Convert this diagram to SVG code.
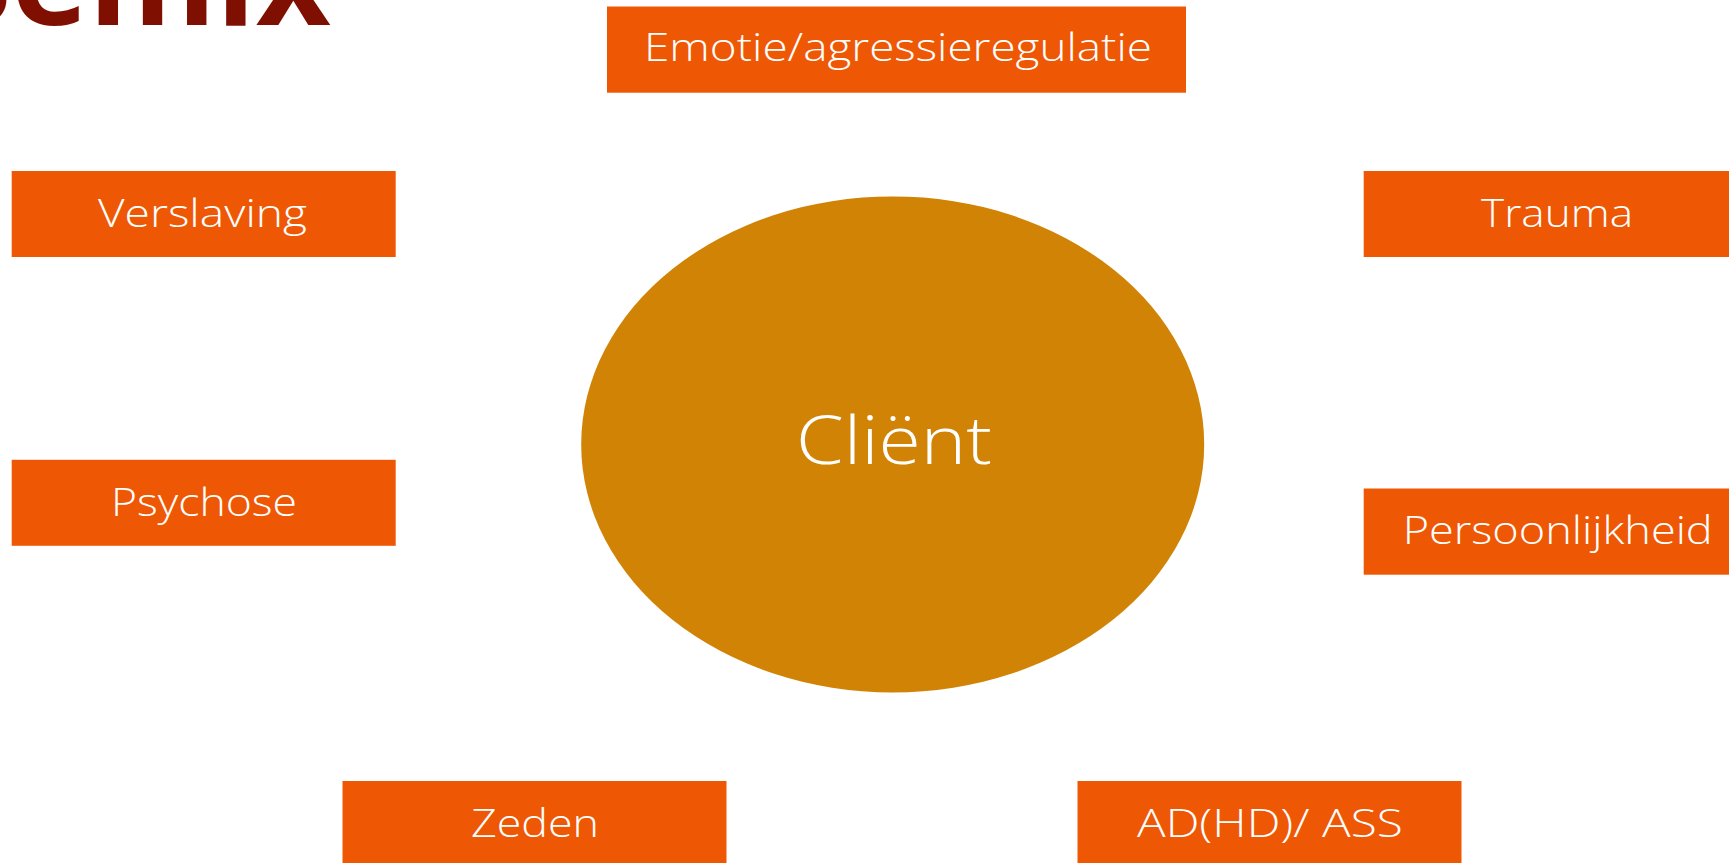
<svg xmlns="http://www.w3.org/2000/svg" width="1729" height="863" viewBox="0 0 1729 863">
<style>
.b{fill:#EE5805}
.t{fill:#fff;font-family:"Open Sans","Noto Sans","Liberation Sans",sans-serif;font-size:38px;font-weight:350}
</style>
<rect width="1729" height="863" fill="#fff"/>
<text id="title" x="-60" y="25" font-family="'Open Sans','Noto Sans',sans-serif" font-weight="700" font-size="130" fill="#7F0F00">Semix</text>
<g id="connectors"></g>
<g id="client"><ellipse cx="892.7" cy="444.4" rx="311.5" ry="248" fill="#D18306"/><text class="t" x="796" y="464" style="font-size:66px" textLength="196" lengthAdjust="spacingAndGlyphs">Cliënt</text></g>
<g id="emotie"><rect class="b" x="607" y="6.5" width="579" height="86.2"/><text class="t" x="644" y="61" textLength="508" lengthAdjust="spacingAndGlyphs">Emotie/agressieregulatie</text></g>
<g id="verslaving"><rect class="b" x="11.7" y="171" width="384" height="86"/><text class="t" x="98" y="226.7" textLength="209" lengthAdjust="spacingAndGlyphs">Verslaving</text></g>
<g id="trauma"><rect class="b" x="1363.7" y="171" width="365.3" height="86"/><text class="t" x="1481" y="226.7" textLength="152" lengthAdjust="spacingAndGlyphs">Trauma</text></g>
<g id="psychose"><rect class="b" x="11.7" y="459.8" width="384" height="86"/><text class="t" x="111" y="516" textLength="186" lengthAdjust="spacingAndGlyphs">Psychose</text></g>
<g id="persoonlijkheid"><rect class="b" x="1363.7" y="488.5" width="365.3" height="86.2"/><text class="t" x="1402.7" y="544" textLength="310" lengthAdjust="spacingAndGlyphs">Persoonlijkheid</text></g>
<g id="zeden"><rect class="b" x="342.5" y="781" width="384" height="82"/><text class="t" x="471" y="836.7" textLength="128" lengthAdjust="spacingAndGlyphs">Zeden</text></g>
<g id="adhd"><rect class="b" x="1077.5" y="781" width="384" height="82"/><text class="t" x="1137" y="836.7" textLength="265.7" lengthAdjust="spacingAndGlyphs">AD(HD)/ ASS</text></g>
</svg>
